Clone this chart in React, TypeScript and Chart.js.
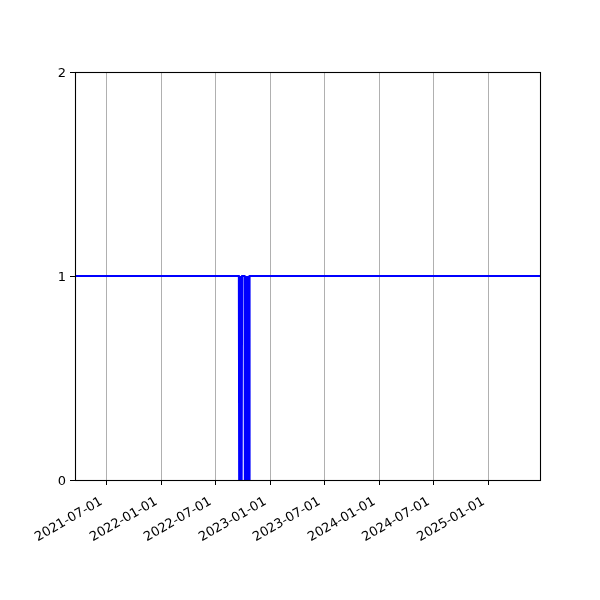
import React, { useEffect, useRef } from "react";
import { Chart, registerables } from "chart.js";

Chart.register(...registerables);

// Axis range and ticks
const xRangeStart = "2021-03-17T05:00";
const xRangeEnd = "2025-06-21T17:00";
const xTickDates = [
  "2021-07-01", "2022-01-01", "2022-07-01", "2023-01-01",
  "2023-07-01", "2024-01-01", "2024-07-01", "2025-01-01",
];
const xTickLabels = [
  "2021-07-01", "2022-01-01", "2022-07-01", "2023-01-01",
  "2023-07-01", "2024-01-01", "2024-07-01", "2025-01-01",
];
const yTickValues = [0, 1, 2];

// Series (status per day)
const seriesDates = [
  "2021-03-17T05:00",
  "2022-09-17", "2022-09-18", "2022-09-19", "2022-09-20", "2022-09-21",
  "2022-09-22", "2022-09-23", "2022-09-24", "2022-09-25", "2022-09-26",
  "2022-09-27", "2022-09-28",
  "2022-10-06", "2022-10-07", "2022-10-08", "2022-10-09", "2022-10-10",
  "2022-10-11", "2022-10-12", "2022-10-13", "2022-10-14", "2022-10-15",
  "2022-10-16", "2022-10-17", "2022-10-18", "2022-10-19", "2022-10-20",
  "2022-10-21", "2022-10-22", "2022-10-23",
  "2025-06-21T17:00",
];
const seriesValues = [
  1,
  1, 0, 1, 0, 1,
  0, 1, 0, 1, 0,
  0, 1,
  1, 0, 1, 0, 1,
  0, 1, 0, 1, 0,
  1, 0, 1, 0, 1,
  0, 0, 1,
  1,
];

function toMs(s: string): number {
  const [datePart, timePart] = s.split("T");
  const [y, m, d] = datePart.split("-").map(Number);
  let h = 0;
  let mi = 0;
  if (timePart) {
    const parts = timePart.split(":").map(Number);
    h = parts[0];
    mi = parts[1] || 0;
  }
  return Date.UTC(y, m - 1, d, h, mi);
}

const framePlugin = {
  id: "frame",
  afterDraw(chart: any) {
    const { ctx, chartArea } = chart;
    ctx.save();
    ctx.strokeStyle = "#000";
    ctx.lineWidth = 1.1;
    ctx.strokeRect(
      Math.round(chartArea.left) + 0.5,
      Math.round(chartArea.top) + 0.5,
      Math.round(chartArea.right - chartArea.left),
      Math.round(chartArea.bottom - chartArea.top)
    );
    ctx.restore();
  },
};

export default function App() {
  const canvasRef = useRef<HTMLCanvasElement | null>(null);

  useEffect(() => {
    if (!canvasRef.current) return;
    Chart.defaults.font.family = "'DejaVu Sans', sans-serif";
    Chart.defaults.color = "#000";
    const points = seriesDates.map((d, i) => ({ x: toMs(d), y: seriesValues[i] }));
    const chart = new Chart(canvasRef.current, {
      type: "line",
      data: {
        datasets: [
          {
            data: points,
            borderColor: "#0000ff",
            borderWidth: 2,
            pointRadius: 0,
            tension: 0,
            fill: false,
          },
        ],
      },
      options: {
        animation: false,
        responsive: false,
        devicePixelRatio: 1,
        layout: { padding: { left: 0, top: 72, right: 60, bottom: 0 } },
        plugins: {
          legend: { display: false },
          tooltip: { enabled: false },
        },
        scales: {
          x: {
            type: "linear",
            min: toMs(xRangeStart),
            max: toMs(xRangeEnd),
            afterBuildTicks: (scale: any) => {
              scale.ticks = xTickDates.map((d) => ({ value: toMs(d) }));
            },
            afterFit: (scale: any) => {
              scale.height = 120;
            },
            ticks: {
              autoSkip: false,
              maxRotation: 30,
              minRotation: 30,
              padding: 9,
              labelOffset: -5,
              font: { size: 13 },
              color: "#000",
              callback: (_v: any, i: number) => xTickLabels[i],
            },
            grid: {
              display: true,
              drawOnChartArea: true,
              color: "#b0b0b0",
              lineWidth: 1,
              tickColor: "#000",
              tickLength: 5,
            },
            border: { display: true, color: "#000", width: 1 },
          },
          y: {
            type: "linear",
            min: 0,
            max: 2,
            afterBuildTicks: (scale: any) => {
              scale.ticks = yTickValues.map((v) => ({ value: v }));
            },
            afterFit: (scale: any) => {
              scale.width = 75;
            },
            ticks: {
              padding: 4,
              labelOffset: 2,
              font: { size: 13 },
              color: "#000",
              callback: (v: any) => String(v),
            },
            grid: {
              display: true,
              drawOnChartArea: false,
              tickColor: "#000",
              tickLength: 5,
            },
            border: { display: true, color: "#000", width: 1 },
          },
        },
      },
      plugins: [framePlugin],
    });
    return () => chart.destroy();
  }, []);

  return (
    <div style={{ position: "absolute", left: 0, top: 0, width: 600, height: 600, background: "#fff" }}>
      <canvas ref={canvasRef} width={600} height={600} />
    </div>
  );
}
